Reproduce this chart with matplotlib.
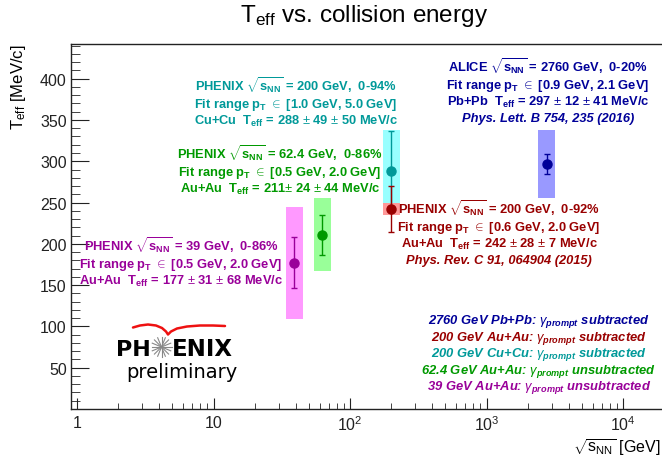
import numpy as np
import matplotlib.pyplot as plt
from matplotlib.ticker import FixedLocator, FixedFormatter, MultipleLocator, NullFormatter

plt.rcParams['font.family'] = ['Liberation Sans', 'DejaVu Sans']
plt.rcParams['mathtext.fontset'] = 'custom'
plt.rcParams['mathtext.rm'] = 'Liberation Sans'
plt.rcParams['mathtext.it'] = 'Liberation Sans:italic'
plt.rcParams['mathtext.bf'] = 'Liberation Sans:bold'
plt.rcParams['mathtext.bfit'] = 'Liberation Sans:italic:bold'
plt.rcParams['mathtext.sf'] = 'Liberation Sans'

# data: PHENIX 39, 62.4, 200 (Cu+Cu), 200 (Au+Au), ALICE 2760
energy = [39, 62.4, 200, 200, 2760]
teff = [177, 211, 288, 242, 297]
stat_err = [31, 24, 49, 28, 12]
syst_err = [68, 44, 50, 7, 41]
point_colors = ['#990099', '#009900', '#009999', '#990000', '#000099']
box_colors = ['#ff99ff', '#99ff99', '#99ffff', '#ff9999', '#9999ff']

xticks = [1, 10, 100, 1000, 10000]
xtick_labels = ['1', '10', r'$\mathregular{10^{2}}$', r'$\mathregular{10^{3}}$', r'$\mathregular{10^{4}}$']

sq = r'$\sqrt{\mathbf{s}_{\mathbf{NN}}}$'
block_lines = [
    ['PHENIX ' + sq + ' = 39 GeV,  0-86%',
     r'Fit range p$_{\mathbf{T}}$ $\in$ [0.5 GeV, 2.0 GeV]',
     r'Au+Au  T$_{\mathbf{eff}}$ = 177 $\pm$ 31 $\pm$ 68 MeV/c'],
    ['PHENIX ' + sq + ' = 62.4 GeV,  0-86%',
     r'Fit range p$_{\mathbf{T}}$ $\in$ [0.5 GeV, 2.0 GeV]',
     r'Au+Au  T$_{\mathbf{eff}}$ = 211$\pm$ 24 $\pm$ 44 MeV/c'],
    ['PHENIX ' + sq + ' = 200 GeV,  0-94%',
     r'Fit range p$_{\mathbf{T}}$ $\in$ [1.0 GeV, 5.0 GeV]',
     r'Cu+Cu  T$_{\mathbf{eff}}$ = 288 $\pm$ 49 $\pm$ 50 MeV/c'],
    ['PHENIX ' + sq + ' = 200 GeV,  0-92%',
     r'Fit range p$_{\mathbf{T}}$ $\in$ [0.6 GeV, 2.0 GeV]',
     r'Au+Au  T$_{\mathbf{eff}}$ = 242 $\pm$ 28 $\pm$ 7 MeV/c',
     'Phys. Rev. C 91, 064904 (2015)'],
    ['ALICE ' + sq + ' = 2760 GeV,  0-20%',
     r'Fit range p$_{\mathbf{T}}$ $\in$ [0.9 GeV, 2.1 GeV]',
     r'Pb+Pb  T$_{\mathbf{eff}}$ = 297 $\pm$ 12 $\pm$ 41 MeV/c',
     'Phys. Lett. B 754, 235 (2016)'],
]
# block anchor (pixel x centre, first baseline)
block_pos = [(181, 252), (280, 160), (296, 92), (499, 215), (548, 73)]

legend_lines = [
    ('2760 GeV Pb+Pb:', 'subtracted', '#000099'),
    ('200 GeV Au+Au:', 'subtracted', '#990000'),
    ('200 GeV Cu+Cu:', 'subtracted', '#009999'),
    ('62.4 GeV Au+Au:', 'unsubtracted', '#009900'),
    ('39 GeV Au+Au:', 'unsubtracted', '#990099'),
]

W, H = 662, 460
fig = plt.figure(figsize=(W / 100, H / 100), dpi=100)
ax = fig.add_axes([71 / W, (H - 410) / H, 591 / W, 365 / H])
ax.set_xscale('log')
ax.set_xlim(10 ** (-6 / 136.5), 10 ** ((662 - 77) / 136.5))
ax.set_ylim(0, 442)

lw = 10 ** (8.5 / 136.5)
for x, y, s, e, pc, bc in zip(energy, teff, stat_err, syst_err, point_colors, box_colors):
    ax.fill_between([x / lw, x * lw], y - e, y + e, color=bc, lw=0, zorder=1)
    ax.errorbar(x, y, yerr=s, fmt='o', color=pc, ms=6.5, elinewidth=1,
                capsize=2.5, capthick=1, zorder=3)

ax.xaxis.set_major_locator(FixedLocator(xticks))
ax.xaxis.set_major_formatter(FixedFormatter(xtick_labels))
minor = [m * 10 ** d for d in range(0, 5) for m in range(2, 10)]
ax.xaxis.set_minor_locator(FixedLocator(minor))
ax.xaxis.set_minor_formatter(NullFormatter())
ax.yaxis.set_major_locator(MultipleLocator(50))
ax.yaxis.set_minor_locator(MultipleLocator(10))
ax.set_yticks([50, 100, 150, 200, 250, 300, 350, 400])
ax.tick_params(axis='both', which='both', direction='in', top=False, right=False,
               labelsize=11.5, colors='#222222')
ax.tick_params(axis='y', which='major', length=13, pad=3)
ax.tick_params(axis='y', which='minor', length=6.5)
ax.tick_params(axis='x', which='major', length=8, pad=4)
ax.tick_params(axis='x', which='minor', length=4)
for sp in ax.spines.values():
    sp.set_color('#222222')
    sp.set_linewidth(1)
ax.spines['right'].set_visible(False)

# overlay in pixel coordinates for texts and logo
ov = fig.add_axes([0, 0, 1, 1], facecolor='none')
ov.set_xlim(0, W)
ov.set_ylim(H, 0)
ov.axis('off')

ov.text(364, 22, r'T$_{\mathrm{eff}}$ vs. collision energy', fontsize=17.5,
        ha='center', va='baseline')
ov.text(18, 45, r'T$_{\mathrm{eff}}$ [MeV/c]', fontsize=12, rotation=90,
        ha='center', va='top')
ov.text(661, 453, r'$\sqrt{\mathrm{s}_{\mathrm{NN}}}$ [GeV]', fontsize=11.5,
        ha='right', va='baseline')

for lines, (cx, by), pc in zip(block_lines, block_pos, point_colors):
    for i, t in enumerate(lines):
        style = 'italic' if t.startswith('Phys') else 'normal'
        ov.text(cx, by + i * 16.3, t, color=pc, fontsize=9.3, fontweight='bold',
                fontstyle=style, ha='center', va='baseline')

for i, (a, b, c) in enumerate(legend_lines):
    ov.text(539, 324 + i * 16.5,
            a + r' $\gamma_{\mathbfit{prompt}}$ ' + b, color=c, fontsize=9.4,
            fontweight='bold', fontstyle='italic', ha='center', va='baseline')

# PHENIX preliminary logo
ov.text(151, 356, 'PH', fontsize=16, fontweight='bold', family='DejaVu Sans',
        ha='right', va='baseline', color='black')
ov.text(172, 356, 'ENIX', fontsize=16.5, fontweight='bold', family='DejaVu Sans',
        ha='left', va='baseline', color='black')
for ang in np.linspace(0, np.pi, 8, endpoint=False):
    dx, dy = 10 * np.cos(ang), 10 * np.sin(ang)
    ov.plot([161.5 - dx, 161.5 + dx], [348 - dy, 348 + dy], color='#888888', lw=0.8)
ov.text(182, 378, 'preliminary', fontsize=14, family='DejaVu Sans',
        ha='center', va='baseline', color='black')
wx = [133, 140, 148, 156, 162, 166, 168, 171, 177, 187, 200, 213, 225]
wy = [328.5, 326.5, 325.5, 326.5, 329, 332.5, 335.5, 332.5, 329.5, 327.5, 326.5, 326.5, 327]
ov.plot(wx, wy, color='#ee1111', lw=1.8, solid_capstyle='round')

fig.savefig('out.png', dpi=100)
